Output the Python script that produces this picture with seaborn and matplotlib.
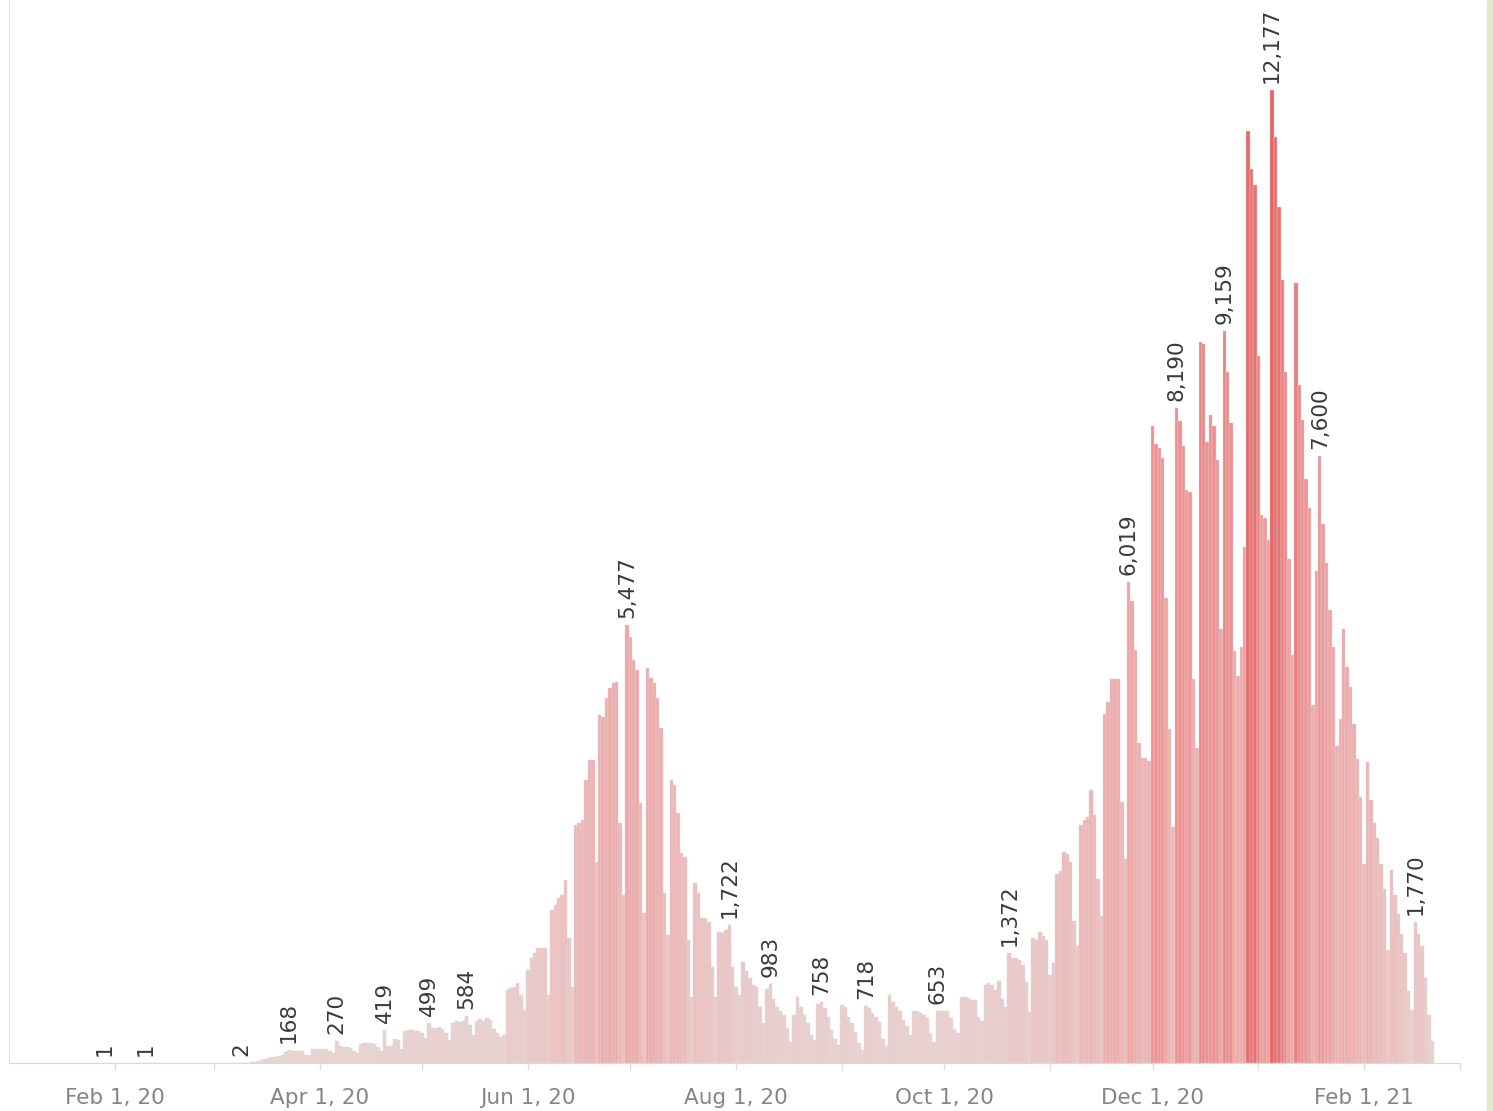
import datetime as dt
import pandas as pd
import matplotlib
matplotlib.use("Agg")
import matplotlib.pyplot as plt
import matplotlib.dates as mdates
from matplotlib.colors import LinearSegmentedColormap, Normalize
from matplotlib.patches import Rectangle
import seaborn as sns

# daily new cases (one list per month)
start_date = "2020-01-29"
jan_2020 = [1, 0, 0]
feb_2020 = [0, 0, 0, 0, 0, 0, 0, 0, 0, 1,
            0, 0, 0, 0, 0, 0, 0, 0, 0, 0,
            0, 0, 0, 0, 0, 0, 0, 0, 0]
mar_2020 = [0, 0, 0, 0, 0, 0, 0, 0, 2, 0,
            3, 8, 15, 25, 35, 50, 60, 75, 70, 85,
            100, 140, 168, 155, 150, 152, 148, 100, 95, 170,
            175]
apr_2020 = [175, 178, 170, 150, 120, 270, 215, 205, 200, 190,
            150, 120, 240, 255, 250, 245, 240, 200, 150, 419,
            215, 210, 300, 290, 180, 400, 410, 415, 400, 395]
may_2020 = [380, 310, 499, 440, 435, 445, 420, 380, 290, 500,
            520, 510, 530, 584, 480, 350, 520, 545, 530, 560,
            540, 420, 380, 330, 350, 913, 938, 954, 1000, 850,
            663]
jun_2020 = [1163, 1313, 1375, 1438, 1438, 1438, 850, 1913, 1975, 2063,
            2100, 2288, 1563, 950, 2975, 3000, 3038, 3538, 3788, 3788,
            2513, 4350, 4325, 4563, 4688, 4750, 4763, 3000, 2100, 5477]
jul_2020 = [5325, 5038, 4913, 3250, 1875, 4938, 4813, 4750, 4563, 4188,
            2125, 1600, 3538, 3475, 3125, 2625, 2575, 1538, 825, 2250,
            2125, 1813, 1813, 1763, 1200, 825, 1638, 1625, 1663, 1722,
            1200]
aug_2020 = [950, 850, 1267, 1150, 1063, 975, 954, 700, 500, 930,
            983, 800, 704, 646, 604, 438, 267, 604, 825, 704,
            600, 500, 354, 292, 740, 758, 688, 579, 413, 300,
            225]
sep_2020 = [725, 704, 579, 500, 392, 250, 160, 718, 688, 625,
            579, 513, 300, 208, 850, 758, 704, 646, 542, 458,
            354, 646, 646, 625, 604, 563, 375, 267, 653, 646]
oct_2020 = [646, 646, 563, 430, 375, 825, 825, 808, 792, 792,
            579, 530, 975, 1000, 975, 917, 1020, 800, 700, 1372,
            1318, 1318, 1290, 1225, 1010, 640, 1565, 1534, 1640, 1595,
            1534]
nov_2020 = [1100, 1250, 2365, 2400, 2640, 2610, 2520, 1780, 1470, 2980,
            3040, 3075, 3410, 3100, 2300, 1840, 4370, 4520, 4800, 4800,
            4800, 3260, 2550, 6019, 5780, 5170, 4000, 3810, 3810, 3780]
dec_2020 = [7970, 7750, 7690, 7570, 5815, 4180, 2950, 8190, 8030, 7720,
            7170, 7140, 4800, 3940, 9020, 9000, 7770, 8110, 7970, 7540,
            5430, 9159, 8650, 8010, 5150, 4840, 5200, 6460, 11660, 11190,
            10990]
jan_2021 = [8850, 6860, 6820, 6540, 12177, 11580, 10710, 9800, 8650, 6300,
            5110, 9760, 8480, 8040, 7310, 6940, 4480, 6150, 7600, 6740,
            6260, 5670, 5200, 3960, 4300, 5430, 4950, 4700, 4240, 3800,
            3330]
feb_2021 = [2490, 3760, 3290, 3000, 2810, 2490, 2180, 1420, 2410, 2100,
            1860, 1620, 1380, 905, 667, 1770, 1620, 1460, 1060, 600,
            270]

label_dates = ["2020-01-29", "2020-02-10", "2020-03-09", "2020-03-23", "2020-04-06",
               "2020-04-20", "2020-05-03", "2020-05-14", "2020-06-30", "2020-07-30",
               "2020-08-11", "2020-08-26", "2020-09-08", "2020-09-29", "2020-10-20",
               "2020-11-24", "2020-12-08", "2020-12-22", "2021-01-05", "2021-01-19",
               "2021-02-16"]

cases = (jan_2020 + feb_2020 + mar_2020 + apr_2020 + may_2020 + jun_2020 + jul_2020
         + aug_2020 + sep_2020 + oct_2020 + nov_2020 + dec_2020 + jan_2021 + feb_2021)
df = pd.DataFrame({"date": pd.date_range(start_date, periods=len(cases), freq="D"),
                   "cases": cases})
df["day"] = mdates.date2num(df["date"])

W, H = 1493, 1111
fig = plt.figure(figsize=(W / 100, H / 100), dpi=100)
ax = fig.add_axes([9.2 / W, 48 / H, (1459.7 - 9.2) / W, 1063 / H])
sns.set_style("white")

sns.barplot(data=df, x="day", y="cases", native_scale=True, width=1.0,
            errorbar=None, color="#eeaaaa", edgecolor="#dcd6d6", linewidth=0.3, ax=ax)

cmap = LinearSegmentedColormap.from_list(
    "reds", ["#e9d5d3", "#efb7b6", "#f0a2a2", "#ec8484", "#e86262"])
norm = Normalize(0, 12177)
for patch, v in zip(ax.patches, df["cases"]):
    patch.set_facecolor(cmap(norm(v)))

# value labels
for d in label_dates:
    row = df.loc[df["date"] == pd.Timestamp(d)].iloc[0]
    ax.annotate(f"{row['cases']:,}", (row["day"], row["cases"]), xytext=(0, 5),
                textcoords="offset points", rotation=90, ha="center", va="bottom",
                fontsize=15.5, color="#3a3a3a", family="DejaVu Sans")

ax.set_xlim(mdates.date2num(dt.date(2020, 1, 1)), mdates.date2num(dt.date(2021, 3, 1)))
ax.set_ylim(0, 13300)

month_starts = pd.date_range("2020-02-01", "2021-03-01", freq="MS")
major = [m for m in month_starts if m.month % 2 == 0]
ax.set_xticks(mdates.date2num(major))
ax.set_xticklabels([f"{m:%b} {m.day}, {m:%y}" for m in major], fontsize=15.5, color="#858585")
ax.set_xticks(mdates.date2num(month_starts), minor=True)
ax.tick_params(axis="x", which="both", length=5, color="#dcdcdc", width=1, pad=13)
ax.set_yticks([])
ax.set_xlabel("")
ax.set_ylabel("")

for side in ["top", "right"]:
    ax.spines[side].set_visible(False)
ax.spines["left"].set_color("#e6e6e6")
ax.spines["bottom"].set_color("#d9d9d9")

fig.patches.append(Rectangle((1487 / W, 0), 6 / W, 1, transform=fig.transFigure,
                             color="#e2e8cc", zorder=0))

fig.savefig("out.png", dpi=100)
